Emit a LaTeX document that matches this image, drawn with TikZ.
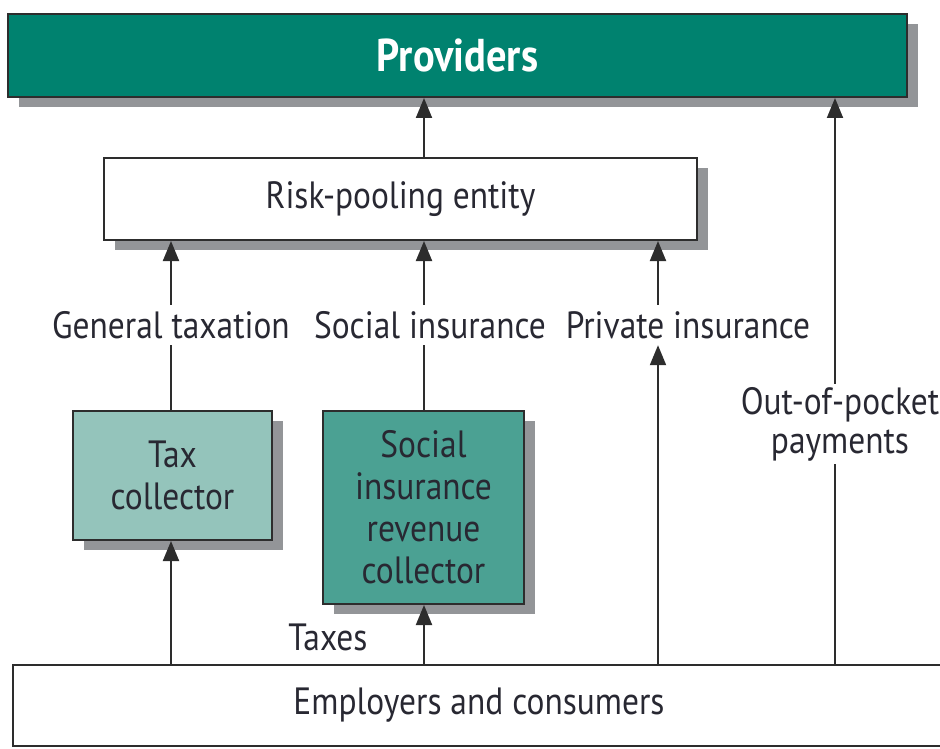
\documentclass[tikz,border=0pt]{standalone}
\usepackage{fontspec}
\setmainfont{PT Sans}[FakeStretch=0.88]
\usetikzlibrary{arrows.meta,shadows}
\definecolor{provfill}{RGB}{0,130,111}
\definecolor{taxfill}{RGB}{148,196,187}
\definecolor{socfill}{RGB}{75,161,147}
\definecolor{shadowgray}{RGB}{147,149,152}
\definecolor{edge}{RGB}{45,45,45}
\definecolor{txt}{RGB}{40,40,50}
\begin{document}
\begin{tikzpicture}[x=1pt,y=-1pt,
  box/.style={draw=edge,line width=2pt,inner sep=0pt,align=center,text=txt,
    font=\fontsize{38}{42}\selectfont},
  shad/.style={drop shadow={shadow xshift=11pt,shadow yshift=-10pt,fill=shadowgray,opacity=1}},
  lbl/.style={inner sep=0pt,minimum height=40pt,text=txt,align=center,font=\fontsize{38}{39}\selectfont},
  arr/.style={draw=edge,line width=2pt,-{Triangle[length=20pt,width=16pt]}},
  ln/.style={draw=edge,line width=2pt}]
\useasboundingbox (0,0) rectangle (940,749);
\node[box,shad,fill=provfill,minimum width=899pt,minimum height=83pt,text=white,
  font=\fontsize{46}{50}\selectfont\bfseries] (prov) at (457.5,55.5) {Providers};
\node[box,shad,fill=white,minimum width=593pt,minimum height=82pt] (risk) at (400.5,199) {Risk-pooling entity};
\node[box,shad,fill=taxfill,minimum width=199pt,minimum height=129pt] (tax) at (172.5,475.5) {Tax\\collector};
\node[box,shad,fill=socfill,minimum width=201pt,minimum height=193pt] (soc) at (423.5,507.5) {Social\\insurance\\revenue\\collector};
\node[box,fill=white,minimum width=932pt,minimum height=81pt] (emp) at (479,705.5) {Employers and consumers};
\node[lbl] (gt) at (171,325) {General taxation};
\node[lbl] (si) at (430,325) {Social insurance};
\node[lbl] (pi) at (688,325) {Private insurance};
\node[lbl,minimum height=80pt] (oop) at (840,424) {Out-of-pocket\\payments};
\node[lbl] (taxes) at (328,637) {Taxes};
\coordinate (gx) at (171,0);
\coordinate (sx) at (424,0);
\coordinate (px) at (658,0);
\coordinate (ox) at (835,0);
% general taxation
\draw[arr] (emp.north -| gx) -- (tax.south -| gx);
\draw[ln] (tax.north -| gx) -- (gt.south -| gx);
\draw[arr] (gt.north -| gx) -- (risk.south -| gx);
% social insurance
\draw[arr] (emp.north -| sx) -- (soc.south -| sx);
\draw[ln] (soc.north -| sx) -- (si.south -| sx);
\draw[arr] (si.north -| sx) -- (risk.south -| sx);
\draw[arr] (risk.north -| sx) -- (prov.south -| sx);
% private insurance
\draw[arr] (emp.north -| px) -- (pi.south -| px);
\draw[arr] (pi.north -| px) -- (risk.south -| px);
% out of pocket
\draw[ln] (emp.north -| ox) -- (oop.south -| ox);
\draw[arr] (oop.north -| ox) -- (prov.south -| ox);
\end{tikzpicture}
\end{document}
